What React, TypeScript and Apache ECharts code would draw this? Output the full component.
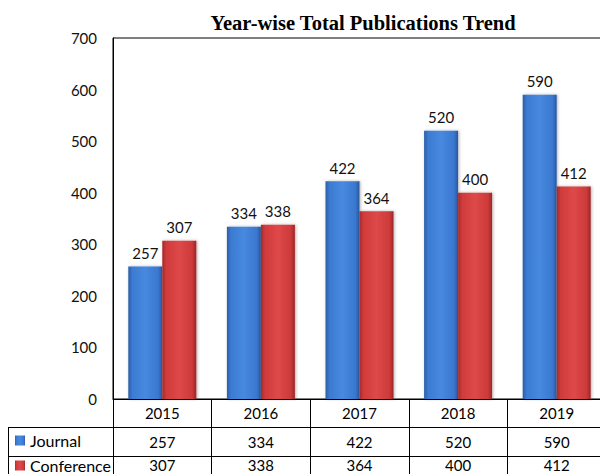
import React, { useEffect, useRef } from "react";
import * as echarts from "echarts";

const years = ["2015", "2016", "2017", "2018", "2019"];
const journal = [257, 334, 422, 520, 590];
const conference = [307, 338, 364, 400, 412];
const yTicks = { min: 0, max: 700, interval: 100 };

const FONT = "Lato, 'Noto Sans', sans-serif";

function hGrad(stops: [number, string][]) {
  return new echarts.graphic.LinearGradient(
    0, 0, 1, 0,
    stops.map(([offset, color]) => ({ offset, color }))
  );
}

const blue = hGrad([
  [0, "#2c5ea6"],
  [0.12, "#3c7bd2"],
  [0.5, "#4889e0"],
  [0.88, "#3a77cf"],
  [1, "#2a579c"],
]);
const red = hGrad([
  [0, "#a52a2a"],
  [0.12, "#d03b3b"],
  [0.5, "#de4848"],
  [0.88, "#cc3a3a"],
  [1, "#9c2626"],
]);

export default function App() {
  const ref = useRef<HTMLDivElement>(null);
  useEffect(() => {
    if (!ref.current) return;
    const chart = echarts.init(ref.current, undefined, { renderer: "svg" });
    const labelStyle = {
      show: true,
      position: "top",
      distance: 6,
      fontFamily: FONT,
      fontSize: 15,
      color: "#111",
    };
    const legendBase = {
      orient: "horizontal",
      left: 15,
      padding: 0,
      itemWidth: 10,
      itemHeight: 10,
      itemStyle: { borderWidth: 0 },
      icon: "rect",
      textStyle: { fontFamily: FONT, fontSize: 16, color: "#000", lineHeight: 17 },
    };
    chart.setOption({
      animation: false,
      backgroundColor: "#ffffff",
      title: {
        text: "Year-wise Total Publications Trend",
        left: 358,
        top: 7,
        textAlign: "center",
        textStyle: {
          fontFamily: "'Liberation Serif', 'Times New Roman', serif",
          fontWeight: "bold",
          fontSize: 20.5,
          color: "#000",
        },
      },
      legend: [
        { ...legendBase, data: ["Journal"], top: 432 },
        { ...legendBase, data: ["Conference"], top: 457 },
      ],
      grid: {
        left: 113,
        right: -6,
        top: 38,
        bottom: 75,
        show: true,
        borderColor: "#000",
        borderWidth: 1,
        containLabel: false,
        outerBoundsMode: "none",
      },
      xAxis: {
        type: "category",
        data: years,
        axisLine: { show: true, lineStyle: { color: "#000", width: 1 } },
        axisTick: {
          show: true,
          interval: 0,
          length: 80,
          lineStyle: { color: "#000", width: 1 },
        },
        axisLabel: {
          interval: 0,
          margin: 0,
          formatter: (value: string, index: number) =>
            `{y|${value}}\n{v|${journal[index]}}\n{c|${conference[index]}}`,
          rich: {
            y: { fontFamily: FONT, fontSize: 15, color: "#000", lineHeight: 28.5 },
            v: { fontFamily: FONT, fontSize: 15, color: "#000", lineHeight: 28.5 },
            c: { fontFamily: FONT, fontSize: 15, color: "#000", lineHeight: 17.5 },
          },
        },
      },
      yAxis: {
        type: "value",
        min: yTicks.min,
        max: yTicks.max,
        interval: yTicks.interval,
        splitLine: { show: false },
        axisLine: { show: true, lineStyle: { color: "#000", width: 1 } },
        axisTick: { show: false },
        axisLabel: {
          margin: 16,
          fontFamily: FONT,
          fontSize: 15,
          color: "#111",
        },
      },
      graphic: [
        { type: "line", shape: { x1: 8, y1: 427.5, x2: 600, y2: 427.5 }, style: { stroke: "#000", lineWidth: 1 } },
        { type: "line", shape: { x1: 8, y1: 456.5, x2: 600, y2: 456.5 }, style: { stroke: "#000", lineWidth: 1 } },
        { type: "line", shape: { x1: 8.5, y1: 427, x2: 8.5, y2: 474 }, style: { stroke: "#000", lineWidth: 1 } },
      ],
      series: [
        {
          name: "Journal",
          type: "bar",
          data: journal,
          barWidth: 34,
          barGap: "0%",
          itemStyle: {
            color: blue,
            shadowBlur: 3,
            shadowColor: "rgba(0,0,0,0.3)",
            shadowOffsetX: 1,
          },
          label: labelStyle,
        },
        {
          name: "Conference",
          type: "bar",
          data: conference,
          barWidth: 34,
          itemStyle: {
            color: red,
            shadowBlur: 3,
            shadowColor: "rgba(0,0,0,0.3)",
            shadowOffsetX: 1,
          },
          label: labelStyle,
        },
      ],
    });
    return () => chart.dispose();
  }, []);
  return (
    <div
      ref={ref}
      style={{ position: "fixed", left: 0, top: 0, width: 600, height: 474 }}
    />
  );
}
